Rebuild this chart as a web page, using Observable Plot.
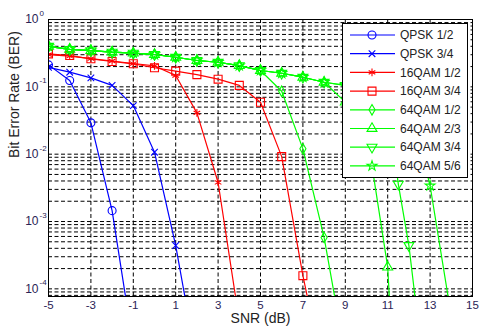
<!DOCTYPE html>
<html><head><meta charset="utf-8">
<script src="https://cdn.jsdelivr.net/npm/d3@7"></script>
<script src="https://cdn.jsdelivr.net/npm/@observablehq/plot@0.6"></script>
<style>
body{margin:0;background:#fff;}
#wrap{position:relative;width:479px;height:326px;}
#legend{position:absolute;left:342px;top:23px;}
</style></head><body><div id="wrap"></div>
<script>
// ---- tick labels ----
const xTicks = [-5,-3,-1,1,3,5,7,9,11,13,15];
const decades = [1,1e-1,1e-2,1e-3,1e-4];

// ---- series ----
const seriesNames = ["QPSK 1/2","QPSK 3/4","16QAM 1/2","16QAM 3/4","64QAM 1/2","64QAM 2/3","64QAM 3/4","64QAM 5/6"];
const seriesColors = ["#0000ff","#0000ff","#ff0000","#ff0000","#00ff00","#00ff00","#00ff00","#00ff00"];

const qpsk12_snr = [-5,-4,-3,-2,-1];
const qpsk12_ber = [0.212,0.124,0.0292,1.45e-3,1.4e-5];
const qpsk34_snr = [-5,-4,-3,-2,-1,0,1,2];
const qpsk34_ber = [0.195,0.165,0.136,0.105,0.0527,0.0107,4.4e-4,7.8e-6];
const qam16_12_snr = [-5,-4,-3,-2,-1,0,1,2,3,4];
const qam16_12_ber = [0.30,0.285,0.262,0.242,0.222,0.205,0.147,0.041,3.8e-3,3.3e-5];
const qam16_34_snr = [-5,-4,-3,-2,-1,0,1,2,3,4,5,6,7,8];
const qam16_34_ber = [0.309,0.292,0.261,0.238,0.22,0.192,0.171,0.152,0.130,0.105,0.059,0.0092,1.57e-4,5e-6];
const qam64_12_snr = [-5,-4,-3,-2,-1,0,1,2,3,4,5,6,7,8,9];
const qam64_12_ber = [0.40,0.36,0.345,0.327,0.316,0.302,0.275,0.246,0.232,0.207,0.175,0.086,0.012,5.8e-4,1e-5];
const qam64_23_snr = [-5,-4,-3,-2,-1,0,1,2,3,4,5,6,7,8,9,10,11,12];
const qam64_23_ber = [0.40,0.36,0.345,0.327,0.316,0.302,0.275,0.246,0.232,0.207,0.175,0.159,0.139,0.117,0.0594,0.0224,2.1e-4,4e-10];
const qam64_34_snr = [-5,-4,-3,-2,-1,0,1,2,3,4,5,6,7,8,9,10,11,11.5,12,13];
const qam64_34_ber = [0.40,0.36,0.345,0.327,0.316,0.302,0.275,0.246,0.232,0.207,0.175,0.159,0.139,0.117,0.105,0.09,0.06,3.6e-3,4.4e-4,1e-6];
const qam64_56_snr = [-5,-4,-3,-2,-1,0,1,2,3,4,5,6,7,8,9,10,11,12,13,14];
const qam64_56_ber = [0.40,0.36,0.345,0.327,0.316,0.302,0.275,0.246,0.232,0.207,0.175,0.159,0.139,0.117,0.105,0.095,0.085,0.06,3.4e-3,3.9e-5];

const seriesSnr = [qpsk12_snr,qpsk34_snr,qam16_12_snr,qam16_34_snr,qam64_12_snr,qam64_23_snr,qam64_34_snr,qam64_56_snr];
const seriesBer = [qpsk12_ber,qpsk34_ber,qam16_12_ber,qam16_34_ber,qam64_12_ber,qam64_23_ber,qam64_34_ber,qam64_56_ber];

// custom downward triangle
const triangleDown = {
  draw(context, size) {
    const y = -Math.sqrt(size / (Math.sqrt(3) * 3));
    context.moveTo(0, -2 * y);
    context.lineTo(-Math.sqrt(3) * y, y);
    context.lineTo(Math.sqrt(3) * y, y);
    context.closePath();
  }
};
const seriesSymbols = [d3.symbolCircle, d3.symbolTimes, d3.symbolAsterisk, d3.symbolSquare, d3.symbolDiamond, d3.symbolTriangle, triangleDown, d3.symbolStar];
const seriesR = [4, 3.1, 3.6, 4.5, 3.2, 3.7, 3.7, 3.1];

const tables = seriesNames.map((name, i) => seriesSnr[i].map((s, j) => ({name, snr: s, ber: seriesBer[i][j]})));

// grid values on log axis
const yGrid = [];
for (const d of [1e-5,1e-4,1e-3,1e-2,1e-1]) for (let m = 1; m <= 9; m++) {
  const v = m * d; if (v >= 7.7e-5 && v <= 1) yGrid.push(v);
}
yGrid.push(1);

const dash = "4,2.5";
const marks = [
  Plot.ruleY(yGrid, {stroke: "#000", strokeWidth: 1, strokeDasharray: dash}),
  Plot.ruleX(xTicks, {stroke: "#000", strokeWidth: 1, strokeDasharray: dash}),
];
tables.forEach((t, i) => {
  marks.push(Plot.line(t, {x: "snr", y: "ber", stroke: seriesColors[i], strokeWidth: 1.2, clip: true}));
  marks.push(Plot.dot(t, {x: "snr", y: "ber", stroke: seriesColors[i], fill: "none", strokeWidth: 1.1, symbol: seriesSymbols[i], r: seriesR[i], clip: true}));
});
marks.push(
  Plot.frame({stroke: "#000", strokeWidth: 1}),
  Plot.axisX(xTicks, {tickSize: 0, tickPadding: 4, tickFormat: d => String(d), fontSize: 11.5, fill: "#2a2355", label: null}),
  Plot.text(decades, {y: d => d, frameAnchor: "left", text: () => "10", textAnchor: "end", dx: -10, fontSize: 12, fill: "#2a2355"}),
  Plot.text(decades, {y: d => d, frameAnchor: "left", text: d => String(Math.round(Math.log10(d))), textAnchor: "start", dx: -9, dy: -6, fontSize: 8, fill: "#2a2355"}),
  Plot.text(["SNR (dB)"], {frameAnchor: "bottom", text: d => d, dy: 22, lineAnchor: "middle", fontSize: 14, fill: "#222"}),
  Plot.text(["Bit Error Rate (BER)"], {frameAnchor: "left", text: d => d, rotate: -90, dx: -34, fontSize: 14, fill: "#222"})
);

const chart = Plot.plot({
  width: 479, height: 326,
  marginLeft: 48, marginRight: 7, marginTop: 19, marginBottom: 30,
  x: {domain: [-5, 15], axis: null},
  y: {type: "log", domain: [7.7e-5, 1], axis: null},
  style: {fontFamily: "'Liberation Sans', Arial, sans-serif", background: "#fff"},
  marks
});
const wrap = document.getElementById("wrap");
wrap.appendChild(chart);

// legend overlay
const lw = 126, lh = 155;
const lg = d3.create("svg").attr("id", "legend").attr("width", lw).attr("height", lh)
  .style("font-family", "'Liberation Sans', Arial, sans-serif");
lg.append("rect").attr("x", 0.5).attr("y", 0.5).attr("width", lw - 1).attr("height", lh - 1)
  .attr("fill", "#fff").attr("stroke", "#000");
seriesNames.forEach((name, i) => {
  const y = 12 + i * 18.7;
  const g = lg.append("g");
  g.append("line").attr("x1", 8).attr("x2", 53).attr("y1", y).attr("y2", y)
    .attr("stroke", seriesColors[i]).attr("stroke-width", 1.2);
  g.append("path").attr("transform", `translate(30,${y})`)
    .attr("d", d3.symbol(seriesSymbols[i], Math.PI * seriesR[i] * seriesR[i])())
    .attr("fill", "none").attr("stroke", seriesColors[i]).attr("stroke-width", 1.1);
  g.append("text").attr("x", 58).attr("y", y).attr("dy", "0.35em")
    .attr("font-size", 12).attr("fill", "#222").text(name);
});
wrap.appendChild(lg.node());
</script>
</body></html>
